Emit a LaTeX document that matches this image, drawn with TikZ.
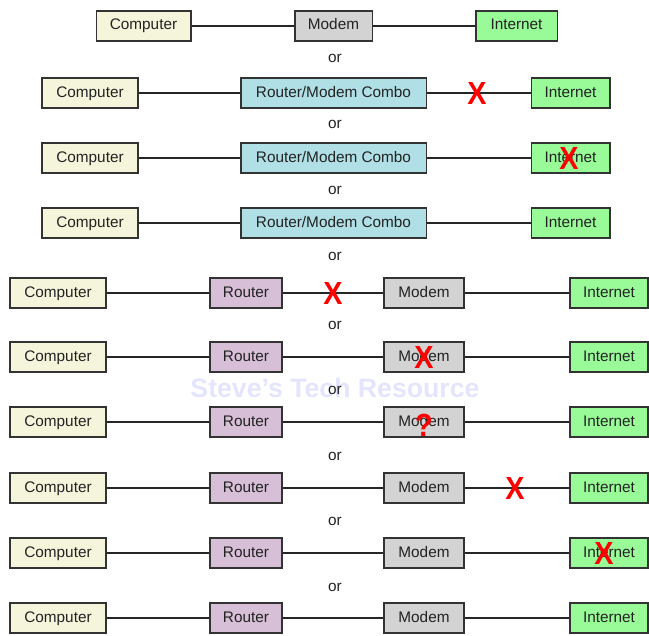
\documentclass[tikz,border=0pt]{standalone}
\usepackage{fontspec}
\setmainfont{Liberation Sans}
\definecolor{compfill}{RGB}{245,245,220}
\definecolor{modemfill}{RGB}{211,211,211}
\definecolor{inetfill}{RGB}{152,251,152}
\definecolor{combofill}{RGB}{176,224,230}
\definecolor{routerfill}{RGB}{216,191,216}
\definecolor{markred}{RGB}{255,0,0}
\definecolor{wmark}{RGB}{228,228,253}
\definecolor{txt}{RGB}{34,34,34}
\tikzset{
  box/.style={draw=black!80, line width=1pt, inner sep=0pt, minimum height=22.5pt,
    text height=8.4pt, text depth=2.4pt,
    text=txt, font=\fontsize{11.5}{13}\selectfont},
  compbox/.style={box, fill=compfill, minimum width=72pt},
  modembox/.style={box, fill=modemfill, minimum width=59pt},
  inetbox/.style={box, fill=inetfill, minimum width=59pt},
  combobox/.style={box, fill=combofill, minimum width=139pt},
  routerbox/.style={box, fill=routerfill, minimum width=54pt},
  link/.style={draw=black!85, line width=0.9pt},
  ortext/.style={inner sep=0pt, text=txt, font=\fontsize{11.5}{13}\selectfont},
  bad/.style={inner sep=0pt, text=markred, xscale=0.9, font=\fontsize{24}{26}\selectfont\bfseries},
}
\begin{document}
\begin{tikzpicture}[x=0.75pt,y=-0.75pt]
\useasboundingbox (0,0) rectangle (649,635);
% watermark
\node[inner sep=0pt, text=wmark, font=\fontsize{20}{24}\selectfont\bfseries] (wm) at (335,388) {Steve's Tech Resource};
% row 1
\node[compbox, minimum width=71pt] (c1) at (143.5,26) {Computer};
\node[modembox, minimum width=58pt] (m1) at (333.5,26) {Modem};
\node[inetbox, minimum width=61pt] (i1) at (516.5,26) {Internet};
\draw[link] (c1) -- (m1) (m1) -- (i1);
\node[ortext] (or1) at (335,58) {or};
% rows 2-4
\node[compbox] (c2) at (90,93) {Computer};
\node[combobox] (b2) at (333.5,93) {Router/Modem Combo};
\node[inetbox] (i2) at (570.5,93) {Internet};
\draw[link] (c2) -- (b2) (b2) -- (i2);
\node[bad] (x2) at (477,93) {X};
\node[ortext] (or2) at (335,124) {or};
\node[compbox] (c3) at (90,158) {Computer};
\node[combobox] (b3) at (333.5,158) {Router/Modem Combo};
\node[inetbox] (i3) at (570.5,158) {Internet};
\draw[link] (c3) -- (b3) (b3) -- (i3);
\node[bad] (x3) at (569,158) {X};
\node[ortext] (or3) at (335,190) {or};
\node[compbox] (c4) at (90,223) {Computer};
\node[combobox] (b4) at (333.5,223) {Router/Modem Combo};
\node[inetbox] (i4) at (570.5,223) {Internet};
\draw[link] (c4) -- (b4) (b4) -- (i4);
\node[ortext] (or4) at (335,256) {or};
% rows 5-10
\foreach \n/\y in {5/293,6/357,7/422,8/488,9/553,10/618}{
  \node[compbox] (c\n) at (58,\y) {Computer};
  \node[routerbox] (r\n) at (246,\y) {Router};
  \node[modembox, minimum width=60pt] (m\n) at (424,\y) {Modem};
  \node[inetbox, minimum width=58.5pt] (i\n) at (609,\y) {Internet};
  \draw[link] (c\n) -- (r\n) (r\n) -- (m\n) (m\n) -- (i\n);
}
\node[ortext] (or5) at (335,325) {or};
\node[ortext] (or6) at (335,390) {or};
\node[ortext] (or7) at (335,456) {or};
\node[ortext] (or8) at (335,521) {or};
\node[ortext] (or9) at (335,587) {or};
\node[bad] (x5) at (333,293) {X};
\node[bad] (x6) at (424,357) {X};
\node[bad] (q7) at (424,425) {?};
\node[bad] (x8) at (515,488) {X};
\node[bad] (x9) at (604,553) {X};
\end{tikzpicture}
\end{document}
